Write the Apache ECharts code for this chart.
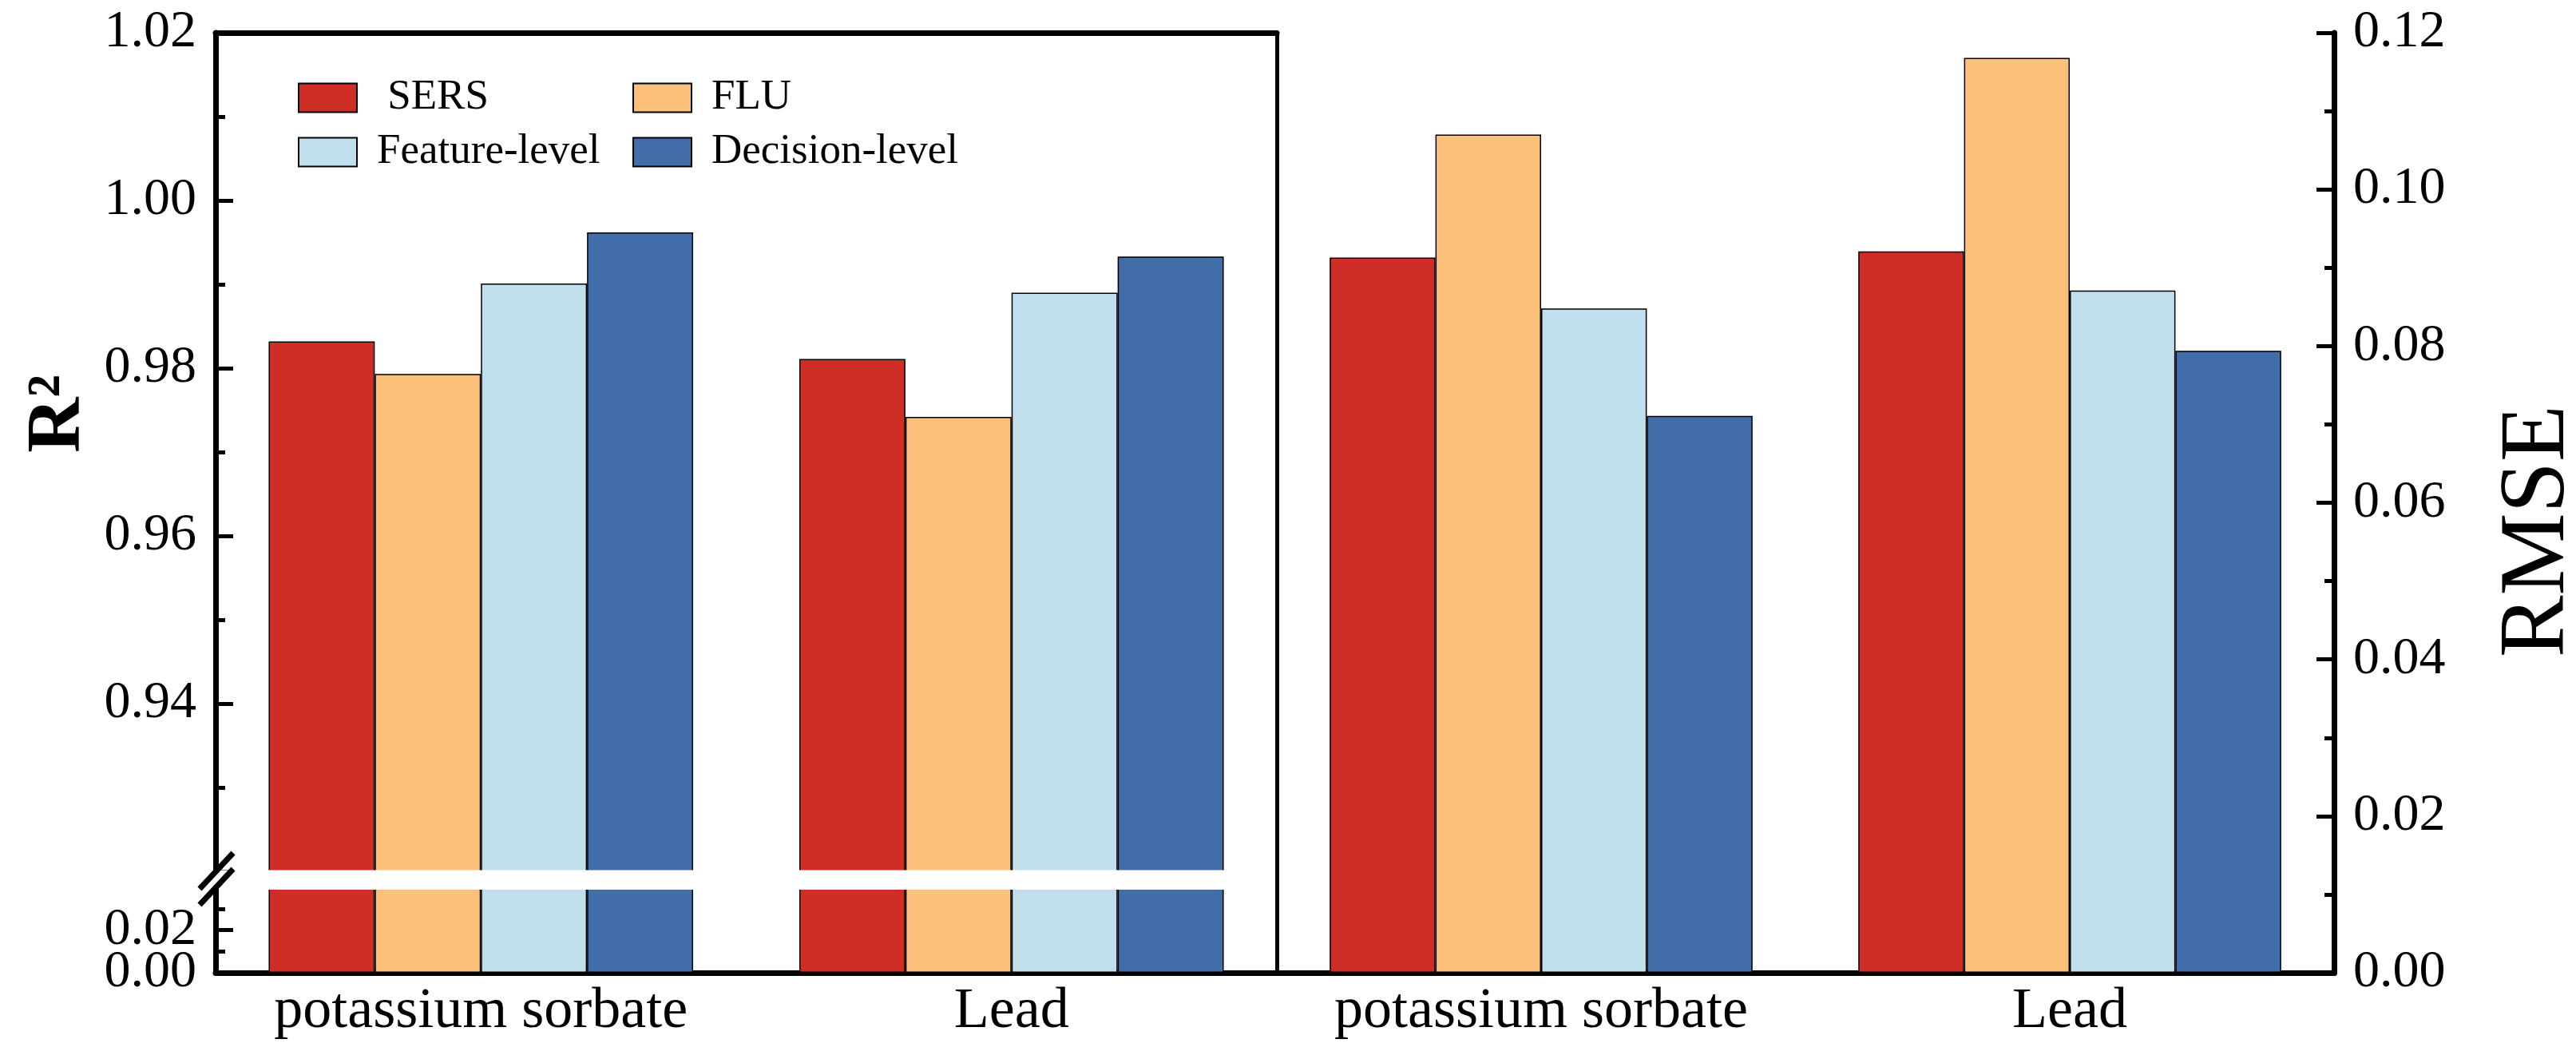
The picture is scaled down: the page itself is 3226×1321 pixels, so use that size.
<!DOCTYPE html>
<html>
<head>
<meta charset="utf-8">
<script src="https://cdn.jsdelivr.net/npm/echarts@6/dist/echarts.min.js"></script>
<style>
  html, body { margin: 0; padding: 0; background: #fff; }
  #chart { width: 3226px; height: 1321px; }
</style>
</head>
<body>
<div id="chart"></div>
<script>
// ---- data ----
const categories = ['potassium sorbate', 'Lead'];
const methods = ['SERS', 'FLU', 'Feature-level', 'Decision-level'];
const colors = ['#CF2E27', '#FDC17B', '#C1DEEC', '#416DA9'];

const r2SERS = [0.9832, 0.9811];
const r2FLU = [0.9793, 0.9742];
const r2Feature = [0.9901, 0.9890];
const r2Decision = [0.9962, 0.9933];

const rmseSERS = [0.0913, 0.0921];
const rmseFLU = [0.1070, 0.1168];
const rmseFeature = [0.0848, 0.0871];
const rmseDecision = [0.0711, 0.0794];

// axis ranges (upper and lower segments of the broken R2 axis, RMSE axis)
const r2Upper = { min: 0.92, max: 1.02, interval: 0.02 };
const r2Lower = { min: 0, max: 0.04, interval: 0.02 };
const rmseRange = { min: 0, max: 0.12, interval: 0.02 };

const r2Data = [r2SERS, r2FLU, r2Feature, r2Decision];
const rmseData = [rmseSERS, rmseFLU, rmseFeature, rmseDecision];

// ---- chart ----
const FONT = '"Liberation Serif", "Times New Roman", serif';
const LINE_W = 7;
const chart = echarts.init(document.getElementById('chart'), null, { renderer: 'canvas' });

const axisLineStyle = { show: true, lineStyle: { color: '#000', width: LINE_W } };
const tickLabel = { color: '#000', fontFamily: FONT, fontSize: 66, margin: 24 };
const majorTick = { show: true, inside: true, length: 22, lineStyle: { color: '#000', width: 5 } };
const minorTick = { show: true, splitNumber: 2, length: 12, lineStyle: { color: '#000', width: 5 } };
const catLabel = { color: '#000', fontFamily: FONT, fontSize: 72, margin: 13, interval: 0, hideOverlap: false };
const fmt2 = v => Number(v).toFixed(2);

const series = [];
methods.forEach((m, i) => {
  const common = {
    type: 'bar',
    name: m,
    barGap: '0%',
    barCategoryGap: '20%',
    clip: true,
    itemStyle: { color: colors[i], borderColor: '#000', borderWidth: 1.5 },
    emphasis: { disabled: true }
  };
  series.push(Object.assign({}, common, { xAxisIndex: 0, yAxisIndex: 0, data: r2Data[i] }));
  series.push(Object.assign({}, common, { xAxisIndex: 2, yAxisIndex: 1, data: r2Data[i] }));
  series.push(Object.assign({}, common, { xAxisIndex: 3, yAxisIndex: 2, data: rmseData[i] }));
});

const legendCommon = {
  orient: 'vertical',
  top: 91,
  itemWidth: 73,
  itemHeight: 36,
  itemGap: 15,
  icon: 'rect',
  selectedMode: false,
  itemStyle: { borderColor: '#000', borderWidth: 2 },
  textStyle: { color: '#000', fontFamily: FONT, fontSize: 53, padding: [0, 0, 0, 20] }
};

const option = {
  animation: false,
  backgroundColor: '#fff',
  grid: [
    { left: 270, right: 3226 - 1599, top: 41, height: 1050 },
    { left: 270, right: 3226 - 1599, top: 1111, height: 107 },
    { left: 1599, right: 303, top: 41, height: 1177 }
  ],
  xAxis: [
    { type: 'category', gridIndex: 0, data: categories, show: false },
    { type: 'category', gridIndex: 0, data: categories, position: 'top',
      axisLine: axisLineStyle, axisTick: { show: false }, axisLabel: { show: false } },
    { type: 'category', gridIndex: 1, data: categories, position: 'bottom',
      axisLine: axisLineStyle, axisTick: { show: false }, axisLabel: catLabel },
    { type: 'category', gridIndex: 2, data: categories, position: 'bottom',
      axisLine: axisLineStyle, axisTick: { show: false }, axisLabel: catLabel },
    { type: 'category', gridIndex: 2, data: categories, position: 'top',
      axisLine: axisLineStyle, axisTick: { show: false }, axisLabel: { show: false } }
  ],
  yAxis: [
    // 0: upper R2 segment
    { type: 'value', gridIndex: 0, position: 'left',
      min: r2Upper.min, max: r2Upper.max, interval: r2Upper.interval,
      axisLine: axisLineStyle, axisTick: majorTick, minorTick: minorTick,
      axisLabel: Object.assign({}, tickLabel, { showMinLabel: false, formatter: fmt2 }),
      splitLine: { show: false } },
    // 1: lower R2 segment (shows the 0.02 label)
    { type: 'value', gridIndex: 1, position: 'left',
      min: r2Lower.min, max: r2Lower.max, interval: r2Lower.interval,
      axisLine: axisLineStyle, axisTick: majorTick, minorTick: minorTick,
      axisLabel: Object.assign({}, tickLabel, { showMinLabel: false, showMaxLabel: false, formatter: fmt2 }),
      splitLine: { show: false } },
    // 2: RMSE
    { type: 'value', gridIndex: 2, position: 'right',
      min: rmseRange.min, max: rmseRange.max, interval: rmseRange.interval,
      axisLine: axisLineStyle, axisTick: majorTick, minorTick: minorTick,
      axisLabel: Object.assign({}, tickLabel, { formatter: fmt2 }),
      splitLine: { show: false } },
    // 3: divider between the panels
    { type: 'value', gridIndex: 2, position: 'left',
      min: rmseRange.min, max: rmseRange.max,
      axisLine: { show: true, lineStyle: { color: '#000', width: 5 } },
      axisTick: { show: false }, axisLabel: { show: false },
      splitLine: { show: false } },
    // 4: lower R2 segment, only the 0.00 label
    { type: 'value', gridIndex: 1, position: 'left',
      min: r2Lower.min, max: r2Lower.max, interval: r2Lower.interval,
      axisLine: { show: false }, axisTick: { show: false }, minorTick: { show: false },
      axisLabel: Object.assign({}, tickLabel, { showMinLabel: true, showMaxLabel: false,
        formatter: v => (Number(v) === 0 ? fmt2(v) : '') }),
      splitLine: { show: false } }
  ],
  legend: [
    Object.assign({}, legendCommon, { left: 368, data: ['SERS', 'Feature-level'],
      formatter: n => (n === 'SERS' ? ' ' + n : n) }),
    Object.assign({}, legendCommon, { left: 787, data: ['FLU', 'Decision-level'] })
  ],
  graphic: [
    { type: 'text', z: 10,
      style: { text: 'R²', fontFamily: FONT, fontWeight: 'bold', fontSize: 96, fill: '#000',
               textAlign: 'center', textVerticalAlign: 'middle' },
      rotation: Math.PI / 2, position: [74, 518] },
    { type: 'text', z: 10,
      style: { text: 'RMSE', fontFamily: FONT, fontSize: 116, fill: '#000',
               textAlign: 'center', textVerticalAlign: 'middle' },
      rotation: Math.PI / 2, position: [3180, 665] },
    // white break band across the bars
    { type: 'rect', z: 20, silent: true, shape: { x: 274, y: 1089.5, width: 1320, height: 24.5 }, style: { fill: '#fff' } },
    // break marks on the left axis
    { type: 'rect', z: 20, silent: true, shape: { x: 262, y: 1092, width: 16, height: 18 }, style: { fill: '#fff' } },
    { type: 'line', z: 21, silent: true, shape: { x1: 250, y1: 1113, x2: 292, y2: 1068 }, style: { stroke: '#000', lineWidth: 7 } },
    { type: 'line', z: 21, silent: true, shape: { x1: 250, y1: 1133, x2: 292, y2: 1088 }, style: { stroke: '#000', lineWidth: 7 } }
  ],
  series: series
};

chart.setOption(option);
</script>
</body>
</html>
